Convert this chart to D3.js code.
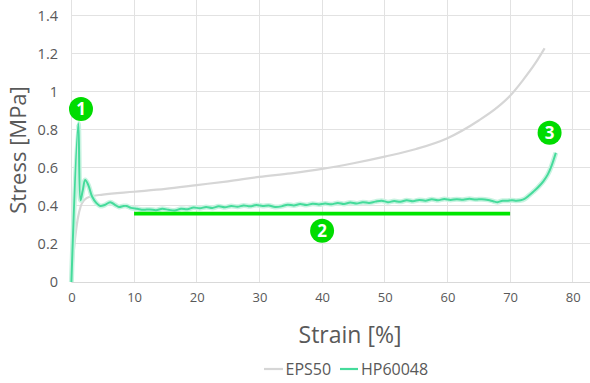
<!DOCTYPE html>
<html>
<head>
<meta charset="utf-8">
<script src="https://cdn.jsdelivr.net/npm/d3@7/dist/d3.min.js"></script>
<style>
html,body{margin:0;padding:0;background:#fff;}
svg{display:block;font-family:"Open Sans",sans-serif;}
</style>
</head>
<body>
<svg id="chart" width="590" height="383"></svg>
<script>
// ---- data ----
const xTicks = [0,10,20,30,40,50,60,70,80];
const yTicks = [0,0.2,0.4,0.6,0.8,1,1.2,1.4];
const yTickLabels = ["0","0.2","0.4","0.6","0.8","1","1.2","1.4"];
const seriesNames = ["EPS50","HP60048"];
const epsStrain = [0,0.5,1,1.5,2,3,5,10,15,20,25,30,35,40,45,50,55,60,65,68,70,72,74,75.5];
const epsStress = [0,0.2,0.33,0.40,0.43,0.45,0.46,0.475,0.49,0.51,0.53,0.553,0.572,0.595,0.625,0.66,0.70,0.757,0.85,0.92,0.98,1.06,1.15,1.23];
const hpStrain = [0,1.1,1.45,1.8,2.2,2.7,3.3,4,4.6,5.3,6.2,7,7.6,8.3,8.8,9.5,10.5,11.5,12.5,13.5,14.5,15.5,16.5,17.5,18.5,19.5,20.5,21.5,22.5,23.5,24.5,25.5,26.5,27.5,28.5,29.5,30.5,31.5,32.5,33.5,34.5,35.5,36.5,37.5,38.5,39.5,40.5,41.5,42.5,43.5,44.5,45.5,46.5,47.5,48.5,49.5,50.5,51.5,52.5,53.5,54.5,55.5,56.5,57.5,58.5,59.5,60.5,61.5,62.5,63.5,64.5,65.5,66.5,67.3,68,68.8,69.5,70.3,71,71.7,72.3,73,73.7,74.5,75.3,76,76.6,77.3];
const hpStress = [0,0.835,0.43,0.48,0.537,0.51,0.45,0.415,0.40,0.405,0.42,0.405,0.395,0.40,0.40,0.39,0.385,0.38,0.382,0.378,0.385,0.38,0.376,0.386,0.383,0.392,0.388,0.395,0.39,0.398,0.393,0.40,0.396,0.403,0.398,0.405,0.40,0.402,0.395,0.398,0.407,0.403,0.41,0.405,0.412,0.408,0.413,0.409,0.416,0.411,0.418,0.413,0.42,0.416,0.423,0.428,0.42,0.426,0.422,0.43,0.425,0.432,0.428,0.435,0.43,0.437,0.432,0.436,0.433,0.438,0.434,0.436,0.432,0.425,0.42,0.428,0.427,0.43,0.428,0.43,0.437,0.455,0.475,0.50,0.53,0.565,0.61,0.68];
const plateauStrain = [10,70];
const plateauStress = [0.36,0.36];
const markerLabels = ["1","2","3"];
const markerStrain = [1.53,40.0,76.3];
const markerStress = [0.91,0.27,0.785];
const xTitle = "Strain [%]";
const yTitle = "Stress [MPa]";

// ---- layout ----
const svg = d3.select("#chart");
const x = d3.scaleLinear().domain([0,82.75]).range([71.4,590]);
const y = d3.scaleLinear().domain([0,1.484]).range([282,0]);
const textCol = "#595959";

// grid
svg.append("g").selectAll("line").data(yTicks.slice(1)).join("line")
  .attr("x1",x(0)).attr("x2",590).attr("y1",d=>y(d)).attr("y2",d=>y(d))
  .attr("stroke","#e2e2e2").attr("stroke-width",1).attr("shape-rendering","crispEdges");
svg.append("g").selectAll("line").data(xTicks).join("line")
  .attr("x1",d=>x(d)).attr("x2",d=>x(d)).attr("y1",0).attr("y2",y(0))
  .attr("stroke","#e2e2e2").attr("stroke-width",1).attr("shape-rendering","crispEdges");

// x axis
const xAxis = svg.append("g").attr("transform",`translate(0,${y(0)})`)
  .call(d3.axisBottom(x).tickValues(xTicks).tickSize(0).tickPadding(11).tickFormat(d3.format("d")));
xAxis.select(".domain").attr("stroke","#d9d9d9").attr("d",`M${x(0)},0.5H590`);
xAxis.selectAll("text").attr("fill",textCol).style("font-size","13px").style("font-family","'Open Sans',sans-serif");

// y axis
const yAxis = svg.append("g").attr("transform",`translate(58,0)`)
  .call(d3.axisLeft(y).tickValues(yTicks).tickSize(0).tickPadding(0).tickFormat((d,i)=>yTickLabels[i]));
yAxis.select(".domain").remove();
yAxis.selectAll("text").attr("fill",textCol).style("font-size","14.5px").style("font-family","'Open Sans',sans-serif");

// titles
svg.append("text").attr("x",350).attr("y",343).attr("text-anchor","middle")
  .attr("fill",textCol).style("font-size","23px").text(xTitle);
svg.append("text").attr("transform","translate(26,150) rotate(-90)").attr("text-anchor","middle")
  .attr("fill",textCol).style("font-size","22px").text(yTitle);

// lines
const line = d3.line().x(d=>x(d[0])).y(d=>y(d[1])).curve(d3.curveMonotoneX);
const epsData = epsStrain.map((v,i)=>[v,epsStress[i]]);
const hpData = hpStrain.map((v,i)=>[v,hpStress[i]]);
const hpLine = d3.line().x(d=>x(d[0])).y(d=>y(d[1])).curve(d3.curveCatmullRom.alpha(0.5));

svg.append("path").datum(epsData).attr("d",line).attr("fill","none")
  .attr("stroke","#d6d6d6").attr("stroke-width",2.2);
svg.append("path").datum(hpData).attr("d",hpLine).attr("fill","none")
  .attr("stroke","#c9f3e1").attr("stroke-width",5).attr("stroke-linejoin","round");
svg.append("path").datum(hpData).attr("d",hpLine).attr("fill","none")
  .attr("stroke","#45db9b").attr("stroke-width",2).attr("stroke-linejoin","round");

// plateau bar
svg.append("line").attr("x1",x(plateauStrain[0])).attr("x2",x(plateauStrain[1]))
  .attr("y1",y(plateauStress[0])).attr("y2",y(plateauStress[1]))
  .attr("stroke","#00e600").attr("stroke-width",3.6);

// markers
const mk = svg.append("g").selectAll("g").data(markerLabels).join("g")
  .attr("transform",(d,i)=>`translate(${x(markerStrain[i])},${y(markerStress[i])})`);
mk.append("circle").attr("r",12).attr("fill","#00dc00");
mk.append("text").attr("text-anchor","middle").attr("dy","0.36em").attr("fill","#fff")
  .style("font-size","17px").style("font-weight","bold").text(d=>d);

// legend
const leg = svg.append("g").attr("transform","translate(0,369)");
leg.append("line").attr("x1",264).attr("x2",283).attr("y1",0).attr("y2",0).attr("stroke","#d6d6d6").attr("stroke-width",2.2);
leg.append("text").attr("x",285.5).attr("y",0).attr("dy","0.35em").attr("fill",textCol).style("font-size","16px").text(seriesNames[0]);
leg.append("line").attr("x1",340).attr("x2",358).attr("y1",0).attr("y2",0).attr("stroke","#45db9b").attr("stroke-width",2.2);
leg.append("text").attr("x",361).attr("y",0).attr("dy","0.35em").attr("fill",textCol).style("font-size","16px").text(seriesNames[1]);
</script>
</body>
</html>
